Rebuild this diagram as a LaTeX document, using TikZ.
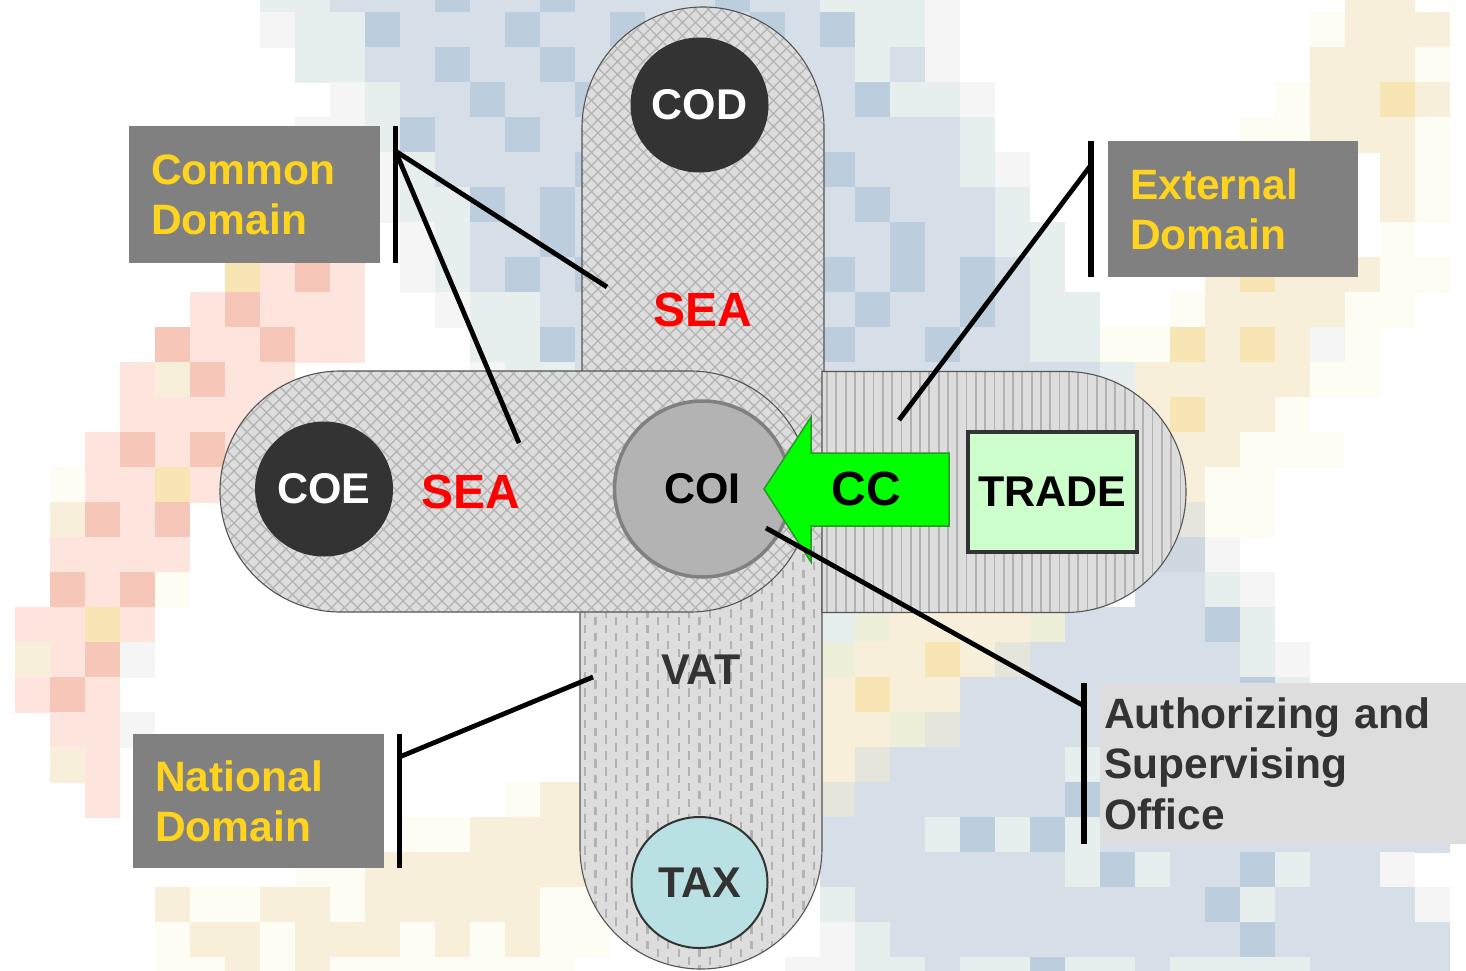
\documentclass[tikz,border=0pt]{standalone}
\usepackage{fontspec}
\setmainfont{Liberation Sans}
\usetikzlibrary{shapes.geometric}
\definecolor{bgb}{RGB}{214,222,232}
\definecolor{bgB}{RGB}{188,205,222}
\definecolor{bgt}{RGB}{230,238,238}
\definecolor{bgg}{RGB}{245,245,245}
\definecolor{bgy}{RGB}{247,239,217}
\definecolor{bgY}{RGB}{247,230,180}
\definecolor{bgc}{RGB}{254,253,244}
\definecolor{bgp}{RGB}{253,229,221}
\definecolor{bgP}{RGB}{246,198,184}
\definecolor{bgk}{RGB}{229,229,220}
\definecolor{bge}{RGB}{238,239,216}
\definecolor{bgs}{RGB}{207,216,224}
\definecolor{pillgrey}{RGB}{221,221,221}
\definecolor{hatchgrey}{RGB}{178,178,178}
\definecolor{pilledgec}{RGB}{85,85,85}
\definecolor{labgrey}{RGB}{128,128,128}
\definecolor{labyellow}{RGB}{255,212,30}
\definecolor{darkgr}{RGB}{51,51,51}
\definecolor{coigrey}{RGB}{179,179,179}
\definecolor{coiedge}{RGB}{128,128,128}
\definecolor{taxfill}{RGB}{185,224,227}
\definecolor{ccgreen}{RGB}{0,255,0}
\definecolor{ccedge}{RGB}{40,150,40}
\definecolor{tradefill}{RGB}{204,255,204}
\definecolor{asobox}{RGB}{221,221,221}
\definecolor{seared}{RGB}{255,0,0}
\newcommand\fbig{\bfseries\fontsize{43}{43}\selectfont}
\newcommand\fsea{\bfseries\fontsize{48}{48}\selectfont}
\newcommand\flab{\bfseries\fontsize{42.5}{50.5}\selectfont}
\makeatletter
\newcommand\bgrowdraw[2]{\def\bg@r{#1}\def\bg@c{0}\bg@parse#2\@nil}
\def\bg@parse#1{\ifx#1\@nil\else\bg@cell#1\expandafter\bg@parse\fi}
\def\bg@cell#1{\if#1.\else\fill[bg#1] ({14.5+35*(\bg@c-1)},{12+35*(\bg@r-1)}) rectangle ++(35.6,35.6);\fi\pgfmathtruncatemacro\bg@c{\bg@c+1}}
\makeatother
\begin{document}
\begin{tikzpicture}[x=1pt,y=-1pt,
  pilledge/.style={draw=pilledgec, line width=1.1pt},
  hatch/.style={draw=hatchgrey, line width=1.2pt},
  stripe/.style={draw=hatchgrey, line width=1.8pt},
  dashline/.style={draw=hatchgrey, line width=2.2pt, dash pattern=on 8.5pt off 7.3pt},
  darkcirc/.style={ellipse, fill=darkgr, text=white, inner sep=0pt, minimum width=138pt, minimum height=135pt, font=\fbig},
  labbox/.style={fill=labgrey, text=labyellow, font=\flab, align=left, inner ysep=0pt, inner xsep=22pt, anchor=north west},
  bar/.style={draw=black, line width=5.5pt},
  leader/.style={draw=black, line width=4.8pt}]
\useasboundingbox (0,0) rectangle (1466,970);
\fill[white] (0,0) rectangle (1466,970);
% ---------- mosaic background ----------
\bgrowdraw{0}{........tt bbbBbbBbbb bBbbtttg.. .........y y..}
\bgrowdraw{1}{........gt tBbbbBbbBb bbBbBttg.. ........cy yy.}
\bgrowdraw{2}{.........t tbbBbbBbbb bbbbbtbg.. ........yy yc.}
\bgrowdraw{3}{.......... gtbbBbbBbb bbbbbBttg. .......cyy Yy.}
\bgrowdraw{4}{.........g gtBbbBbbbb bbbbbbbbt. ......ccyy yc.}
\bgrowdraw{5}{.......... .gtbbbbBbb bbbbBbbbtg .......... yc.}
\bgrowdraw{6}{.......... .gttBbBbbb bbbbbBbbbt .......... yc.}
\bgrowdraw{7}{.......... ..gtbbBbbb bbbbbbBbbt t......... c..}
\bgrowdraw{8}{.......YpP p.gtbBbBbb bbbbBbBbBb t....yYyyy cc.}
\bgrowdraw{9}{......pPpp p..gttbbbb bbbbbBbbBb tt..cyyyyc c..}
\bgrowdraw{10}{.....PppPp p...ttBbbb bbbbBbbBbb ttccYyYygc ...}
\bgrowdraw{11}{....pyPpp. ....gttbbb bbbbbbbbbb bbtyyyyycc ...}
\bgrowdraw{12}{....pppp.. .......... .......... ...yYyyc.. ...}
\bgrowdraw{13}{...pPpPp.. .......... .......... ...yyyccc. ...}
\bgrowdraw{14}{..cppYp... .......... .......... ...yycc... ...}
\bgrowdraw{15}{..yPpP.... .......... .......... ...kkcc... ...}
\bgrowdraw{16}{..pppp.... .......... .......... ...ssg.... ...}
\bgrowdraw{17}{..PpPc.... .......... .......... ...bbtg... ...}
\bgrowdraw{18}{.ppYp..... .......... ....teyyyy ebbbbBt... ...}
\bgrowdraw{19}{.ypPg..... .......... ....eyyYyk bbbbbbtg.. ...}
\bgrowdraw{20}{.pPp...... .......... ....yYyybb bbbbbbBt.. ...}
\bgrowdraw{21}{..ppg..... .......... ....yyekbb bbbbbbbb.. ...}
\bgrowdraw{22}{..yp...... .......... ....ykbbbb btbbbbbb.. ...}
\bgrowdraw{23}{...p...... .....cyy.. ....kbbbbb bBbbbbbb.. ...}
\bgrowdraw{24}{.......... ..ccyyyy.. ....bbbtBt Btbbbbbbbb bb.}
\bgrowdraw{25}{.........c cyyyyyyy.. ....bbbbbb btBtbbBtbb g..}
\bgrowdraw{26}{.....yccyy cyyyyycc.. ....tbbbbb bbbbbBtbbb bg.}
\bgrowdraw{27}{.....cyycy yycycycc.. ....gtbbbb bbbbbbBbbb bb.}
\bgrowdraw{28}{.....ccycy ccccccc... ...ggttbtt Bttbttttbb bb.}
% ---------- COD pill (top, crosshatch) ----------
\fill[pillgrey] (582,540) -- (582,128) arc[start angle=180,end angle=360,radius=121] -- (824,540) -- cycle;
\begin{scope}
\clip (582,540) -- (582,128) arc[start angle=180,end angle=360,radius=121] -- (824,540) -- cycle;
\foreach \a in {-403,-390,...,1500}{\draw[hatch] (\a,-10) -- ++(1000,1000); \draw[hatch] (\a,-10) -- ++(-1000,1000);}
\end{scope}
\draw[pilledge] (582,540) -- (582,128) arc[start angle=180,end angle=360,radius=121] -- (824,540);
% ---------- VAT pill (bottom, dashed) ----------
\fill[pillgrey] (580,540) -- (580,848) arc[start angle=180,end angle=0,radius=121] -- (822,540) -- cycle;
\begin{scope}
\clip (580,540) -- (580,848) arc[start angle=180,end angle=0,radius=121] -- (822,540) -- cycle;
\foreach \i in {0,...,23}{\pgfmathsetmacro\xx{585+10.4*\i}\pgfmathsetmacro\ph{mod(\i,2)*7.9}
  \draw[dashline, dash phase=\ph pt] (\xx,530) -- (\xx,975);}
\end{scope}
\draw[pilledge] (580,540) -- (580,848) arc[start angle=180,end angle=0,radius=121] -- (822,540);
% ---------- COE pill (left, crosshatch) ----------
\fill[pillgrey] (340.5,371) -- (690,371) arc[start angle=270,end angle=450,radius=120.5] -- (340.5,612) arc[start angle=90,end angle=270,radius=120.5] -- cycle;
\begin{scope}
\clip (340.5,371) -- (690,371) arc[start angle=270,end angle=450,radius=120.5] -- (340.5,612) arc[start angle=90,end angle=270,radius=120.5] -- cycle;
\foreach \a in {-403,-390,...,1500}{\draw[hatch] (\a,-10) -- ++(1000,1000); \draw[hatch] (\a,-10) -- ++(-1000,1000);}
\end{scope}
\draw[pilledge] (340.5,371) -- (690,371) arc[start angle=270,end angle=450,radius=120.5] -- (340.5,612) arc[start angle=90,end angle=270,radius=120.5] -- cycle;
% ---------- TRADE pill (right, vertical lines) ----------
\fill[pillgrey] (822,371.5) -- (1065.5,371.5) arc[start angle=270,end angle=450,radius=120.5] -- (822,612.5) -- cycle;
\begin{scope}
\clip (822,371.5) -- (1065.5,371.5) arc[start angle=270,end angle=450,radius=120.5] -- (822,612.5) -- cycle;
\foreach \x in {827,836.3,...,1192}{\draw[stripe] (\x,360) -- (\x,620);}
\end{scope}
\draw[pilledge] (822,371.5) -- (1065.5,371.5) arc[start angle=270,end angle=450,radius=120.5] -- (822,612.5) -- cycle;
% ---------- circles ----------
\node[darkcirc] (cod) at (699.5,105) {COD};
\node[darkcirc] (coe) at (324,489) {COE};
\node[ellipse, fill=taxfill, draw=darkgr, line width=2pt, minimum width=136pt, minimum height=131pt, inner sep=0pt, text=darkgr, font=\fbig] (tax) at (699.5,882.5) {TAX};
\node[circle, fill=coigrey, draw=coiedge, line width=3.5pt, minimum size=176pt, inner sep=0pt, font=\fbig] (coi) at (702.5,489) {COI};
% ---------- CC arrow ----------
\draw[fill=ccgreen, draw=ccedge, line width=1.5pt, line join=miter] (764,489) -- (811,417) -- (811,453) -- (949,453) -- (949,526) -- (811,526) -- (811,562) -- cycle;
\node[inner sep=0pt, font=\fsea] (cc) at (866,489) {CC};
% ---------- TRADE box ----------
\node[draw=darkgr, line width=4.5pt, fill=tradefill, minimum width=169pt, minimum height=120pt, inner sep=0pt, font=\fbig] (trade) at (1052.5,492) {TRADE};
% ---------- texts ----------
\node[inner sep=0pt, text=seared, font=\fsea] (seatop) at (703,310) {SEA};
\node[inner sep=0pt, text=seared, font=\fsea] (sealeft) at (471,492) {SEA};
\node[inner sep=0pt, text=darkgr, font=\fbig] (vat) at (701,670) {VAT};
% ---------- labels ----------
\node[labbox, minimum width=251pt, minimum height=137pt, text width=207pt] (cdbox) at (129,126) {Common\\Domain};
\node[labbox, minimum width=250pt, minimum height=136pt, text width=206pt] (edbox) at (1108,141) {External\\Domain};
\node[labbox, minimum width=251pt, minimum height=134pt, text width=207pt] (ndbox) at (133,734) {National\\Domain};
\node[labbox, fill=asobox, text=darkgr, inner xsep=4pt, minimum width=366pt, minimum height=161pt, text width=358pt] (asbox) at (1100,683) {Authorizing and\\Supervising\\Office};
% ---------- bars ----------
\draw[bar] ([xshift=15pt]cdbox.north east) -- ([xshift=15pt]cdbox.south east);
\draw[bar] ([xshift=-17pt]edbox.north west) -- ([xshift=-17pt]edbox.south west);
\draw[bar] ([xshift=15pt]ndbox.north east) -- ([xshift=15pt]ndbox.south east);
\draw[bar] ([xshift=-16pt]asbox.north west) -- ([xshift=-16pt]asbox.south west);
% ---------- leader lines ----------
\coordinate (cdA) at (607,287);
\coordinate (cdB) at (519,443);
\coordinate (edA) at (899,420);
\coordinate (ndA) at (593,677);
\coordinate (asA) at (766,528);
\draw[leader] ([xshift=15pt,yshift=-25pt]cdbox.north east) -- (cdA);
\draw[leader] ([xshift=15pt,yshift=-25pt]cdbox.north east) -- (cdB);
\draw[leader] ([xshift=-17pt,yshift=-24pt]edbox.north west) -- (edA);
\draw[leader] ([xshift=15pt,yshift=-23pt]ndbox.north east) -- (ndA);
\draw[leader] ([xshift=-16pt,yshift=-23pt]asbox.north west) -- (asA);
\end{tikzpicture}
\end{document}
